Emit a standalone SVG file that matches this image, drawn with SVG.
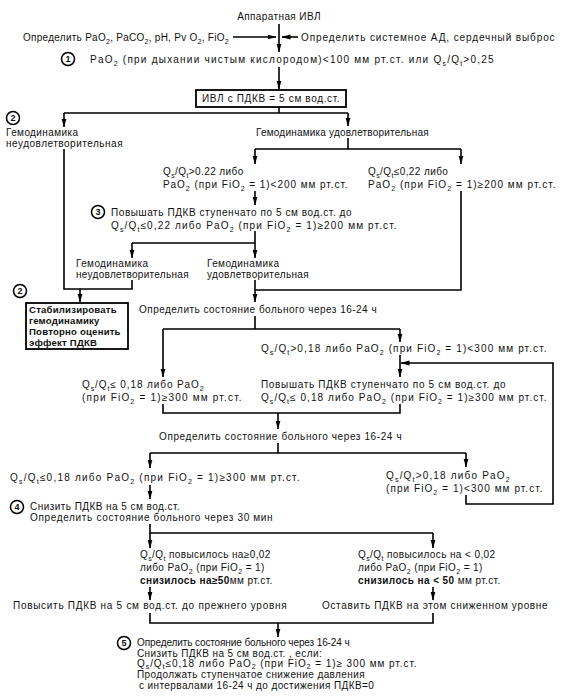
<svg xmlns="http://www.w3.org/2000/svg" width="562" height="696" viewBox="0 0 562 696">
<style>
text{font-family:"Liberation Sans",Arial,sans-serif;font-size:10px;fill:#111;letter-spacing:0.4px}
.s{font-size:7px;baseline-shift:-2.5px}
.s2{font-size:7px;baseline-shift:-2px}
.b{font-weight:bold}
.bx{font-weight:bold;font-size:9.6px;letter-spacing:0.2px}
.ln{fill:none;stroke:#000;stroke-width:1.6}
.box{fill:#fff;stroke:#000;stroke-width:1.8}
.c{fill:#fff;stroke:#000;stroke-width:1.5}
.n{font-weight:bold;font-size:9px;text-anchor:middle;letter-spacing:0}
</style>
<defs>
<marker id="a" markerWidth="9" markerHeight="6" refX="8.5" refY="3" orient="auto" markerUnits="userSpaceOnUse">
<path d="M0,0.5 L9,3 L0,5.5 z" fill="#000"/>
</marker>
</defs>
<rect width="562" height="696" fill="#fff"/>
<g id="connectors">
<path class="ln" d="M279,24 V52" marker-end="url(#a)"/>
<path class="ln" d="M233,37 H276" marker-end="url(#a)"/>
<path class="ln" d="M298,37 H282" marker-end="url(#a)"/>
<path class="ln" d="M279,67 V89" marker-end="url(#a)"/>
<path class="ln" d="M279,107 V113 M64,113 H348"/>
<path class="ln" d="M64,113 V127" marker-end="url(#a)"/>
<path class="ln" d="M348,113 V126" marker-end="url(#a)"/>
<path class="ln" d="M348,138 V149 M255,149 H461"/>
<path class="ln" d="M255,149 V164" marker-end="url(#a)"/>
<path class="ln" d="M461,149 V164" marker-end="url(#a)"/>
<path class="ln" d="M255,191 V205" marker-end="url(#a)"/>
<path class="ln" d="M255,231 V243 M132,243 H255"/>
<path class="ln" d="M132,243 V258" marker-end="url(#a)"/>
<path class="ln" d="M255,243 V258" marker-end="url(#a)"/>
<path class="ln" d="M64,149 V289 H132 V280"/>
<path class="ln" d="M80,289 V302" marker-end="url(#a)"/>
<path class="ln" d="M461,191 V290 H255"/>
<path class="ln" d="M255,280 V302" marker-end="url(#a)"/>
<path class="ln" d="M255,316 V329 M163,329 H400"/>
<path class="ln" d="M163,329 V377" marker-end="url(#a)"/>
<path class="ln" d="M400,329 V342" marker-end="url(#a)"/>
<path class="ln" d="M400,355 V377" marker-end="url(#a)"/>
<path class="ln" d="M163,404 V413 H400 V404"/>
<path class="ln" d="M278,413 V429" marker-end="url(#a)"/>
<path class="ln" d="M278,443 V453 M150,453 H466"/>
<path class="ln" d="M150,453 V468" marker-end="url(#a)"/>
<path class="ln" d="M466,453 V467" marker-end="url(#a)"/>
<path class="ln" d="M466,495 V504 H553 V363 H401" marker-end="url(#a)"/>
<path class="ln" d="M150,485 V499" marker-end="url(#a)"/>
<path class="ln" d="M150,524 V533 H433"/>
<path class="ln" d="M150,533 V548" marker-end="url(#a)"/>
<path class="ln" d="M433,533 V548" marker-end="url(#a)"/>
<path class="ln" d="M150,587 V600" marker-end="url(#a)"/>
<path class="ln" d="M433,587 V600" marker-end="url(#a)"/>
<path class="ln" d="M150,613 V623 H433 V613"/>
<path class="ln" d="M278,623 V637" marker-end="url(#a)"/>
</g>
<g id="start"><text x="279" y="20" text-anchor="middle">Аппаратная ИВЛ</text></g>
<g id="measure-gas"><text x="23" y="41" textLength="206" lengthAdjust="spacing">Определить PaO<tspan class="s">2</tspan>, PaCO<tspan class="s">2</tspan>, pH, Pv O<tspan class="s">2</tspan>, FiO<tspan class="s">2</tspan></text></g>
<g id="measure-hemo"><text x="301" y="41" textLength="254" lengthAdjust="spacing">Определить системное АД, сердечный выброс</text></g>
<g id="step1">
<circle class="c" cx="68" cy="59" r="6.5"/><text class="n" x="68" y="62.3">1</text>
<text x="90" y="63" textLength="404" lengthAdjust="spacing">PaO<tspan class="s">2</tspan> (при дыхании чистым кислородом)&lt;100 мм рт.ст. или Q<tspan class="s">s</tspan>/Q<tspan class="s">t</tspan>&gt;0,25</text>
</g>
<g id="peep5"><rect class="box" x="196" y="90" width="150" height="17"/><text x="271" y="102" text-anchor="middle" textLength="138" lengthAdjust="spacing">ИВЛ с ПДКВ = 5 см вод.ст.</text></g>
<g id="hemo-bad1">
<circle class="c" cx="13" cy="118" r="6.5"/><text class="n" x="13" y="121.3">2</text>
<text x="6" y="136">Гемодинамика</text><text x="6" y="147" textLength="117" lengthAdjust="spacing">неудовлетворительная</text>
</g>
<g id="hemo-ok1"><text x="256" y="136" textLength="173" lengthAdjust="spacing">Гемодинамика удовлетворительная</text></g>
<g id="qs-high"><text x="163" y="175">Q<tspan class="s">s</tspan>/Q<tspan class="s">t</tspan>&gt;0.22 либо</text><text x="163" y="188" textLength="185" lengthAdjust="spacing">PaO<tspan class="s">2</tspan> (при FiO<tspan class="s">2</tspan> = 1)&lt;200 мм рт.ст.</text></g>
<g id="qs-low"><text x="368" y="175">Q<tspan class="s">s</tspan>/Q<tspan class="s">t</tspan>≤0,22 либо</text><text x="368" y="188" textLength="188" lengthAdjust="spacing">PaO<tspan class="s">2</tspan> (при FiO<tspan class="s">2</tspan> = 1)≥200 мм рт.ст.</text></g>
<g id="step3">
<circle class="c" cx="98" cy="212" r="6.5"/><text class="n" x="98" y="215.3">3</text>
<text x="111" y="216" textLength="241" lengthAdjust="spacing">Повышать ПДКВ ступенчато по 5 см вод.ст. до</text>
<text x="111" y="229" textLength="286" lengthAdjust="spacing">Q<tspan class="s">s</tspan>/Q<tspan class="s">t</tspan>≤0,22 либо   PaO<tspan class="s">2</tspan>   (при FiO<tspan class="s">2</tspan> = 1)≥200 мм рт.ст.</text>
</g>
<g id="hemo-bad2"><text x="76" y="267">Гемодинамика</text><text x="76" y="278" textLength="113" lengthAdjust="spacing">неудовлетворительная</text></g>
<g id="hemo-ok2"><text x="207" y="267">Гемодинамика</text><text x="207" y="278" textLength="102" lengthAdjust="spacing">удовлетворительная</text></g>
<g id="stabilize">
<circle class="c" cx="20" cy="291" r="6.5"/><text class="n" x="20" y="294.3">2</text>
<rect class="box" x="26" y="303" width="102" height="46"/>
<text class="bx" x="29" y="313">Стабилизировать</text><text class="bx" x="29" y="324">гемодинамику</text><text class="bx" x="29" y="335">Повторно оценить</text><text class="bx" x="29" y="346">эффект ПДКВ</text>
</g>
<g id="assess1"><text x="139" y="313" textLength="238" lengthAdjust="spacing">Определить состояние больного через 16-24 ч</text></g>
<g id="qs018-high1"><text x="261" y="352" textLength="286" lengthAdjust="spacing">Q<tspan class="s">s</tspan>/Q<tspan class="s">t</tspan>&gt;0,18 либо PaO<tspan class="s">2</tspan> (при FiO<tspan class="s">2</tspan> = 1)&lt;300 мм рт.ст.</text></g>
<g id="qs018-low1"><text x="82" y="388" textLength="122" lengthAdjust="spacing">Q<tspan class="s">s</tspan>/Q<tspan class="s">t</tspan>≤ 0,18 либо PaO<tspan class="s">2</tspan></text><text x="82" y="401" textLength="160" lengthAdjust="spacing">(при FiO<tspan class="s">2</tspan> = 1)≥300 мм рт.ст.</text></g>
<g id="increase-peep"><text x="261" y="388" textLength="245" lengthAdjust="spacing">Повышать ПДКВ ступенчато по 5 см вод.ст. до</text><text x="261" y="401" textLength="286" lengthAdjust="spacing">Q<tspan class="s">s</tspan>/Q<tspan class="s">t</tspan>≤ 0,18 либо PaO<tspan class="s">2</tspan> (при FiO<tspan class="s">2</tspan> = 1)≥300 мм рт.ст.</text></g>
<g id="assess2"><text x="159" y="440" textLength="243" lengthAdjust="spacing">Определить состояние больного через 16-24 ч</text></g>
<g id="qs018-low2"><text x="10" y="481" textLength="290" lengthAdjust="spacing">Q<tspan class="s">s</tspan>/Q<tspan class="s">t</tspan>≤0,18 либо PaO<tspan class="s">2</tspan> (при FiO<tspan class="s">2</tspan> = 1)≥300 мм рт.ст.</text></g>
<g id="qs018-high2"><text x="386" y="479" textLength="124" lengthAdjust="spacing">Q<tspan class="s">s</tspan>/Q<tspan class="s">t</tspan>&gt;0,18 либо PaO<tspan class="s">2</tspan></text><text x="386" y="492" textLength="157" lengthAdjust="spacing">(при FiO<tspan class="s">2</tspan> = 1)&lt;300 мм рт.ст.</text></g>
<g id="step4">
<circle class="c" cx="17" cy="507" r="6.5"/><text class="n" x="17" y="510.3">4</text>
<text x="30" y="510" textLength="150" lengthAdjust="spacing">Снизить ПДКВ на 5 см вод.ст.</text><text x="30" y="521" textLength="243" lengthAdjust="spacing">Определить состояние больного через  30 мин</text>
</g>
<g id="worse"><text x="140" y="558">Q<tspan class="s">s</tspan>/Q<tspan class="s">t</tspan> повысилось на≥0,02</text><text x="140" y="571">либо PaO<tspan class="s">2</tspan> (при FiO<tspan class="s">2</tspan> = 1)</text><text x="140" y="584"><tspan class="b">снизилось на≥50</tspan>мм рт.ст.</text></g>
<g id="stable"><text x="358" y="558">Q<tspan class="s">s</tspan>/Q<tspan class="s">t</tspan> повысилось на &lt; 0,02</text><text x="358" y="571">либо PaO<tspan class="s">2</tspan> (при FiO<tspan class="s">2</tspan> = 1)</text><text x="358" y="584"><tspan class="b">снизилось на &lt; 50</tspan> мм рт.ст.</text></g>
<g id="restore"><text x="13" y="609" textLength="274" lengthAdjust="spacing">Повысить ПДКВ на 5 см вод.ст. до прежнего уровня</text></g>
<g id="keep"><text x="322" y="609" textLength="226" lengthAdjust="spacing">Оставить ПДКВ на этом сниженном уровне</text></g>
<g id="step5">
<circle class="c" cx="124" cy="643" r="6.5"/><text class="n" x="124" y="646.3">5</text>
<text x="137" y="646" textLength="213" lengthAdjust="spacing">Определить состояние больного через 16-24 ч</text>
<text x="137" y="656.5">Снизить ПДКВ на 5 см  вод.ст. , если:</text>
<text x="137" y="667" textLength="280" lengthAdjust="spacing">Q<tspan class="s2">s</tspan>/Q<tspan class="s2">t</tspan>≤0,18 либо PaO<tspan class="s2">2</tspan> (при FiO<tspan class="s2">2</tspan> = 1)≥ 300 мм рт.ст.</text>
<text x="137" y="678">Продолжать ступенчатое снижение давления</text>
<text x="139" y="688.5">с интервалами 16-24 ч до  достижения ПДКВ=0</text>
</g>
</svg>
